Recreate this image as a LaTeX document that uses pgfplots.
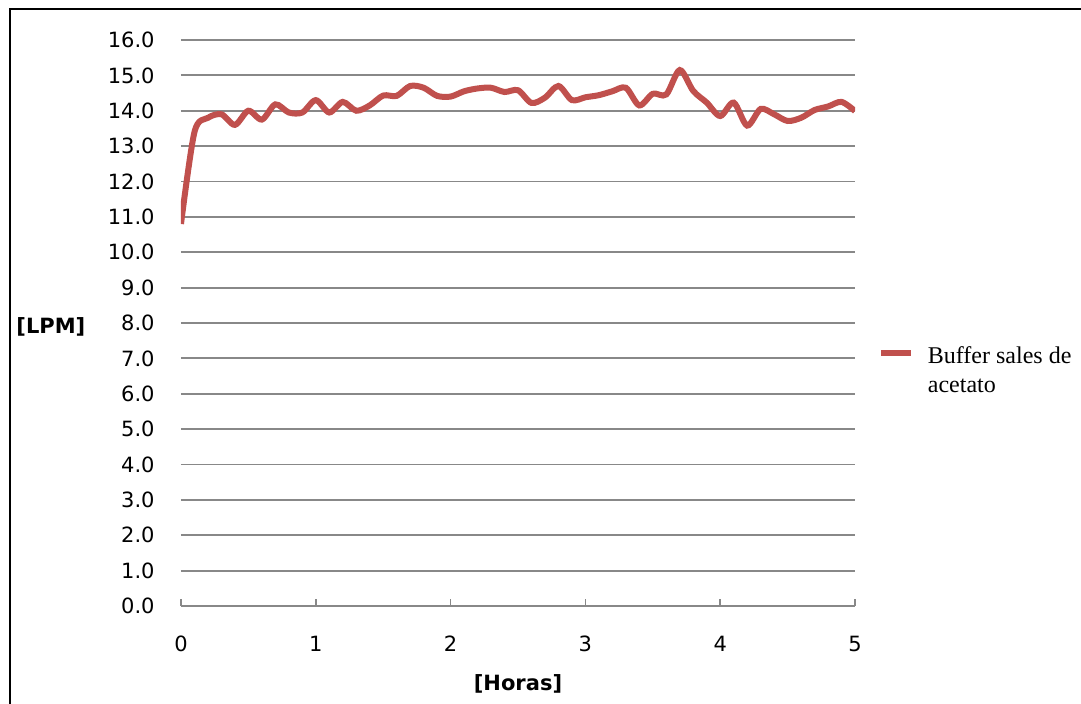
\documentclass[border=0pt]{standalone}
\usepackage{pgfplots}
\pgfplotsset{compat=1.18}
\usepackage{pgfplotstable}
\usepackage{fontspec}
\setmainfont{DejaVu Sans}
\newfontfamily\legendfont{Liberation Serif}

\definecolor{flowred}{HTML}{C0504D}
\definecolor{gridgray}{HTML}{888888}

% Caudal medido cada 0,1 h
\pgfplotstableread{
t    lpm
0.0  10.80
0.1  13.40
0.2  13.80
0.3  13.90
0.4  13.60
0.5  14.00
0.6  13.75
0.7  14.18
0.8  13.95
0.9  13.95
1.0  14.30
1.1  13.95
1.2  14.25
1.3  14.00
1.4  14.15
1.5  14.43
1.6  14.42
1.7  14.70
1.8  14.65
1.9  14.42
2.0  14.40
2.1  14.55
2.2  14.63
2.3  14.65
2.4  14.53
2.5  14.58
2.6  14.22
2.7  14.37
2.8  14.70
2.9  14.30
3.0  14.38
3.1  14.44
3.2  14.55
3.3  14.65
3.4  14.15
3.5  14.48
3.6  14.46
3.7  15.15
3.8  14.56
3.9  14.23
4.0  13.85
4.1  14.23
4.2  13.58
4.3  14.05
4.4  13.90
4.5  13.71
4.6  13.80
4.7  14.02
4.8  14.12
4.9  14.25
5.0  13.99
}\buffer

\begin{document}
\begin{tikzpicture}
\useasboundingbox (-90.5pt,-49pt) rectangle (450pt,303pt);
% marco exterior
\draw[line width=1.3pt] (-85.5pt,-49pt) -- (-85.5pt,298.5pt) -- (450pt,298.5pt);
\begin{axis}[
  at={(0pt,0pt)}, anchor=south west,
  scale only axis,
  width=337pt, height=283pt,
  xmin=0, xmax=5, ymin=0, ymax=16,
  xtick={0,1,2,3,4,5},
  ytick distance=1,
  axis x line*=bottom,
  axis y line*=left,
  y axis line style={draw=none},
  x axis line style={draw=gridgray, line width=0.9pt, -},
  xtick style={draw=gridgray, line width=0.8pt},
  ytick style={draw=none},
  major tick length=3.5pt,
  tick pos=lower,
  ymajorgrids,
  grid style={draw=gridgray, line width=0.9pt},
  /pgf/number format/assume math mode=true,
  ticklabel style={font=\fontsize{10.5}{12}\selectfont, inner sep=0pt},
  yticklabel style={/pgf/number format/fixed, /pgf/number format/fixed zerofill,
    /pgf/number format/precision=1, anchor=east, xshift=-13pt},
  xticklabel style={anchor=base, yshift=-23pt},
  ylabel={\bfseries [LPM]},
  ylabel style={font=\fontsize{10.5}{12}\selectfont, rotate=-90, anchor=center,
    at={(axis description cs:-0.193,0.493)}},
  xlabel={\bfseries [Horas]},
  xlabel style={font=\fontsize{10.5}{12}\selectfont, anchor=center,
    at={(axis description cs:0.5,-0.138)}},
  legend style={draw=none, fill=none, at={(axis description cs:1.034,0.415)},
    anchor=west, font=\legendfont\fontsize{12}{14.5}\selectfont,
    cells={align=left}, inner sep=0pt,
    /tikz/every odd column/.append style={column sep=5pt}},
  legend image code/.code={%
    \path[draw=none] (0pt,-9pt) -- (0pt,9pt);
    \draw[line width=2.8pt, flowred] (0pt,9pt) -- (15pt,9pt);},
]
\addplot[flowred, line width=3pt, smooth, tension=0.5] table[x=t, y=lpm] {\buffer};
\addlegendentry{Buffer sales de\\acetato}
\end{axis}
\end{tikzpicture}
\end{document}
